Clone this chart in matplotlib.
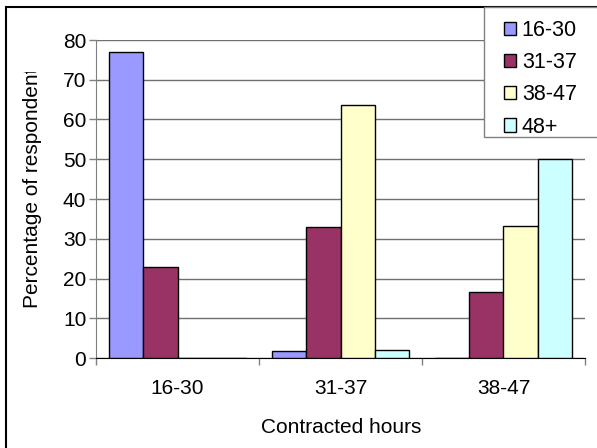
import matplotlib
matplotlib.use('Agg')
import matplotlib.pyplot as plt
import numpy as np
from matplotlib.patches import Rectangle
from matplotlib.transforms import Bbox, TransformedBbox

plt.rcParams['font.family'] = ['Liberation Sans', 'DejaVu Sans']

groups = ['16-30', '31-37', '38-47']
series = ['16-30', '31-37', '38-47', '48+']
v_16_30 = [77.0, 1.7, 0.0]
v_31_37 = [23.0, 32.9, 16.6]
v_38_47 = [0.0, 63.6, 33.3]
v_48 = [0.0, 1.9, 50.0]
colors = ['#9999FF', '#993366', '#FFFFCC', '#CCFFFF']

W, H = 597, 448
fig = plt.figure(figsize=(W / 100, H / 100), dpi=100)
ax = fig.add_axes([96 / W, 1 - 358 / H, (585 - 96) / W, (358 - 40) / H])

x = np.arange(len(groups))
w = 0.209
for i, (vals, name, c) in enumerate(zip([v_16_30, v_31_37, v_38_47, v_48], series, colors)):
    ax.bar(x + (i - 1.5) * w, vals, w, color=c, edgecolor='black', linewidth=1,
           label=name, zorder=3)

ax.set_xlim(-0.5, 2.5)
ax.set_ylim(0, 80)
ax.set_yticks(range(0, 81, 10))
ax.yaxis.grid(True, color='#707070', linewidth=1, zorder=0)
ax.set_axisbelow(True)

ax.set_xticks(x)
ax.set_xticklabels(groups)
ax.set_xticks([-0.5, 0.5, 1.5, 2.5], minor=True)
ax.tick_params(axis='x', which='major', length=0, pad=15, labelsize=15)
ax.tick_params(axis='x', which='minor', length=5, width=1, color='#808080')
ax.tick_params(axis='y', length=5, width=1, color='#808080', pad=2, labelsize=15)

for s in ['top', 'right']:
    ax.spines[s].set_visible(False)
ax.spines['left'].set_color('#808080')
ax.spines['bottom'].set_color('black')

fig.text(341 / W, 1 - 433 / H, 'Contracted hours', ha='center', va='baseline', fontsize=15)
yl = fig.text(33 / W, 1 - 187.5 / H, 'Percentage of respondent', ha='center', va='center',
              rotation=90, fontsize=15)
yl.set_clip_box(TransformedBbox(Bbox([[0, 0], [1, 1 - 72 / H]]), fig.transFigure))
yl.set_clip_on(True)

# chart area border (left and top visible)
fig.patches.append(Rectangle((6 / W, -0.5), 2, 0.5 + 1 - 7 / H, transform=fig.transFigure,
                             fill=False, edgecolor='black', linewidth=1.5))

# legend box
fig.patches.append(Rectangle((484 / W, 1 - 137 / H), 1, (137 - 7) / H, transform=fig.transFigure,
                             facecolor='white', edgecolor='#808080', linewidth=1, zorder=5))
leg = fig.legend(loc='upper left', bbox_to_anchor=(504 / W, 1 - 20 / H), frameon=False,
                 fontsize=15.5, handlelength=0.58, handleheight=0.58, handletextpad=0.25,
                 labelspacing=0.52, borderpad=0, borderaxespad=0)
leg.set_zorder(6)

fig.savefig('out.png', dpi=100)
